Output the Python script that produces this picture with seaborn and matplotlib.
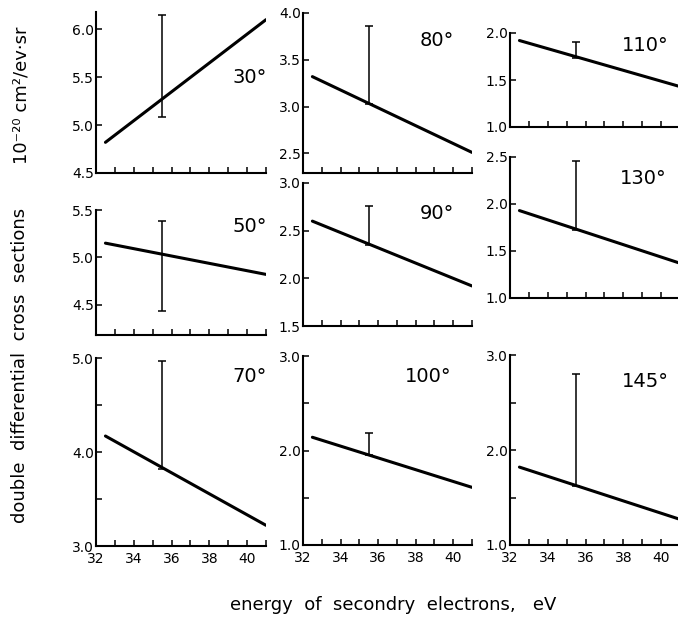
import matplotlib
matplotlib.use("Agg")
import matplotlib.pyplot as plt
import matplotlib.transforms as mtransforms
import pandas as pd
import seaborn as sns

# ---- data ----
angles = ["30°", "50°", "70°", "80°", "90°", "100°", "110°", "130°", "145°"]
line_x = [32.5, 41.0]
line_start = [4.82, 5.15, 4.17, 3.32, 2.60, 2.14, 1.92, 1.93, 1.82]
line_end = [6.10, 4.82, 3.22, 2.51, 1.92, 1.61, 1.43, 1.37, 1.27]
err_x = 35.5
err_low = [5.08, 4.43, 3.82, 3.03, 2.35, 1.95, 1.73, 1.72, 1.62]
err_high = [6.15, 5.38, 4.97, 3.86, 2.76, 2.19, 1.90, 2.46, 2.80]
y_min = [4.5, 4.18, 3.0, 2.29, 1.5, 1.0, 1.0, 1.0, 1.0]
y_max = [6.18, 5.5, 5.0, 4.0, 3.0, 3.0, 2.0, 2.5, 3.0]
y_major = [[4.5, 5.0, 5.5, 6.0], [4.5, 5.0, 5.5], [3.0, 4.0, 5.0],
           [2.5, 3.0, 3.5, 4.0], [1.5, 2.0, 2.5, 3.0], [1.0, 2.0, 3.0],
           [1.0, 1.5, 2.0], [1.0, 1.5, 2.0, 2.5], [1.0, 2.0, 3.0]]
y_minor = [[], [], [3.5, 4.5], [], [], [1.5, 2.5], [], [], [1.5, 2.5]]
x_major = [32, 34, 36, 38, 40]
x_minor = [33, 35, 37, 39, 41]
x_label_text = "energy  of  secondry  electrons,   eV"
y_label_units = "10⁻²⁰ cm²/ev·sr"
y_label_text = "double  differential  cross  sections"

# ---- layout (pixels in a 678x619 figure) ----
W, H = 678, 619
col_x = [(96, 266), (303, 472), (510, 680)]
panel_rows = [(12, 173), (210, 335), (358, 546),
              (13, 173), (183, 326), (356, 545),
              (33, 127), (157, 298), (355, 545)]
label_pos = [(0.906, 0.596), (0.906, 0.864), (0.906, 0.899),
             (0.793, 0.825), (0.793, 0.790), (0.740, 0.889),
             (0.794, 0.862), (0.782, 0.851), (0.794, 0.858)]

sns.set_style("ticks")
plt.rcParams["font.family"] = ["DejaVu Sans"]
plt.rcParams["text.color"] = "black"
plt.rcParams["xtick.labelcolor"] = "black"
plt.rcParams["ytick.labelcolor"] = "black"

fig = plt.figure(figsize=(W / 100, H / 100), dpi=100)

for i in range(9):
    col = i // 3
    x0, x1 = col_x[col]
    top, bot = panel_rows[i]
    ax = fig.add_axes([x0 / W, 1 - bot / H, (x1 - x0) / W, (bot - top) / H])
    df = pd.DataFrame({"energy": line_x, "dcs": [line_start[i], line_end[i]]})
    sns.lineplot(data=df, x="energy", y="dcs", ax=ax, color="black", lw=2.2)
    half = (err_high[i] - err_low[i]) / 2
    ax.errorbar([err_x], [(err_low[i] + err_high[i]) / 2], yerr=[[half], [half]],
                fmt="none", ecolor="black", elinewidth=1.1, capsize=3.2, capthick=1.1)
    ax.set_xlim(32, 41)
    ax.set_ylim(y_min[i], y_max[i])
    ax.set_xticks(x_major)
    ax.set_xticks(x_minor, minor=True)
    ax.set_yticks(y_major[i])
    ax.set_yticks(y_minor[i], minor=True)
    ylabels = ax.set_yticklabels([f"{v:.1f}" for v in y_major[i]], fontsize=10, color="black")
    bottom_row = (i % 3 == 2)
    if bottom_row:
        ax.set_xticklabels([str(v) for v in x_major], fontsize=10, color="black")
        # lift the lowest y label a little so it clears the x labels
        ylabels[0].set_transform(ylabels[0].get_transform() +
                                 mtransforms.ScaledTranslation(0, 3 / 72, fig.dpi_scale_trans))
    else:
        ax.set_xticklabels([])
    ax.tick_params(axis="both", which="both", direction="in", length=4,
                   width=1.1, color="black", pad=1.5)
    ax.tick_params(axis="x", which="major", pad=4.5)
    for s in ["top", "right"]:
        ax.spines[s].set_visible(False)
    for s in ["left", "bottom"]:
        ax.spines[s].set_linewidth(1.5)
        ax.spines[s].set_color("black")
    ax.set_xlabel("")
    ax.set_ylabel("")
    ax.patch.set_alpha(0)
    ax.text(label_pos[i][0], label_pos[i][1], angles[i], transform=ax.transAxes,
            ha="center", va="center", fontsize=14, color="black")

fig.text(22 / W, 1 - 95 / H, y_label_units, rotation=90, ha="center", va="center",
         fontsize=13, color="black")
fig.text(20 / W, 1 - 365 / H, y_label_text, rotation=90, ha="center", va="center",
         fontsize=13, color="black")
fig.text(393 / W, 1 - 605 / H, x_label_text, ha="center", va="center",
         fontsize=13, color="black")

fig.savefig("out.png", dpi=100, facecolor="white")
